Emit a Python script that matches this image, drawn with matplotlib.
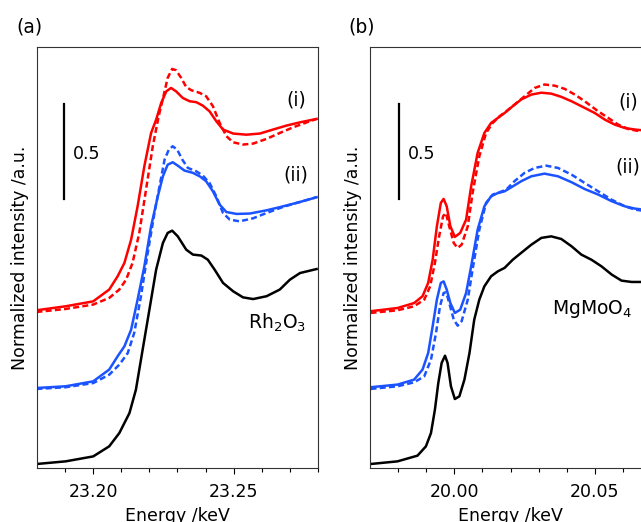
import matplotlib
matplotlib.use("Agg")
import matplotlib.pyplot as plt

# ---- panel (a): Rh K-edge ----
e_a_ref = [23.1798, 23.1902, 23.2000, 23.2057, 23.2093, 23.2129, 23.2152, 23.2176, 23.2200, 23.2224,
           23.2248, 23.2265, 23.2281, 23.2301, 23.2331, 23.2355, 23.2385, 23.2408, 23.2432, 23.2462,
           23.2498, 23.2533, 23.2569, 23.2617, 23.2664, 23.2700, 23.2736, 23.2795]
i_a_ref = [0.021, 0.035, 0.061, 0.114, 0.184, 0.289, 0.412, 0.623, 0.833, 1.044,
           1.184, 1.237, 1.249, 1.219, 1.149, 1.123, 1.118, 1.096, 1.044, 0.974,
           0.930, 0.898, 0.889, 0.904, 0.939, 0.991, 1.026, 1.047]

e_a_i = [23.1798, 23.1902, 23.2000, 23.2057, 23.2087, 23.2111, 23.2135, 23.2158, 23.2182, 23.2206,
         23.2224, 23.2242, 23.2260, 23.2277, 23.2295, 23.2319, 23.2343, 23.2367, 23.2390, 23.2414,
         23.2438, 23.2462, 23.2498, 23.2545, 23.2593, 23.2640, 23.2688, 23.2736, 23.2795]
i_a_i = [0.830, 0.851, 0.877, 0.939, 1.009, 1.079, 1.202, 1.377, 1.588, 1.763,
         1.833, 1.921, 1.982, 2.000, 1.982, 1.947, 1.930, 1.925, 1.907, 1.877,
         1.825, 1.781, 1.760, 1.754, 1.760, 1.781, 1.802, 1.819, 1.837]

e_a_i_d = [23.1798, 23.1902, 23.2000, 23.2057, 23.2093, 23.2117, 23.2140, 23.2164, 23.2188, 23.2212,
           23.2233, 23.2250, 23.2265, 23.2281, 23.2295, 23.2313, 23.2331, 23.2349, 23.2379, 23.2402,
           23.2426, 23.2450, 23.2474, 23.2498, 23.2533, 23.2569, 23.2617, 23.2664, 23.2712, 23.2760, 23.2795]
i_a_i_d = [0.821, 0.837, 0.860, 0.895, 0.939, 0.991, 1.079, 1.237, 1.465, 1.693,
           1.851, 1.956, 2.053, 2.100, 2.093, 2.053, 2.005, 1.988, 1.974, 1.956,
           1.904, 1.816, 1.746, 1.714, 1.702, 1.707, 1.732, 1.763, 1.793, 1.819, 1.837]

e_a_ii = [23.1798, 23.1902, 23.2000, 23.2057, 23.2087, 23.2111, 23.2135, 23.2158, 23.2182, 23.2206,
          23.2230, 23.2248, 23.2265, 23.2283, 23.2301, 23.2325, 23.2355, 23.2379, 23.2402, 23.2426,
          23.2450, 23.2474, 23.2510, 23.2557, 23.2617, 23.2676, 23.2736, 23.2795]
i_a_ii = [0.421, 0.430, 0.456, 0.518, 0.588, 0.640, 0.728, 0.886, 1.061, 1.272,
          1.430, 1.535, 1.596, 1.609, 1.591, 1.565, 1.553, 1.535, 1.509, 1.456,
          1.386, 1.347, 1.337, 1.339, 1.356, 1.377, 1.400, 1.425]

e_a_ii_d = [23.1798, 23.1902, 23.2000, 23.2057, 23.2093, 23.2123, 23.2146, 23.2170, 23.2194, 23.2218,
            23.2236, 23.2254, 23.2269, 23.2283, 23.2299, 23.2317, 23.2337, 23.2367, 23.2390, 23.2414,
            23.2438, 23.2462, 23.2486, 23.2521, 23.2569, 23.2617, 23.2676, 23.2736, 23.2795]
i_a_ii_d = [0.416, 0.425, 0.447, 0.491, 0.544, 0.605, 0.711, 0.904, 1.132, 1.342,
            1.482, 1.623, 1.675, 1.693, 1.675, 1.623, 1.579, 1.561, 1.539, 1.500,
            1.430, 1.342, 1.307, 1.298, 1.314, 1.342, 1.374, 1.400, 1.425]

# ---- panel (b): Mo K-edge ----
e_b_ref = [19.9702, 19.9798, 19.9869, 19.9899, 19.9917, 19.9931, 19.9943, 19.9955, 19.9967, 19.9976,
           19.9988, 20.0002, 20.0018, 20.0036, 20.0054, 20.0071, 20.0089, 20.0107, 20.0131, 20.0155,
           20.0179, 20.0208, 20.0238, 20.0274, 20.0310, 20.0345, 20.0381, 20.0417, 20.0452, 20.0488,
           20.0524, 20.0560, 20.0595, 20.0631, 20.0670]
i_b_ref = [0.021, 0.035, 0.065, 0.114, 0.184, 0.307, 0.447, 0.553, 0.591, 0.553,
           0.430, 0.363, 0.377, 0.465, 0.605, 0.781, 0.886, 0.956, 1.009, 1.035,
           1.053, 1.096, 1.132, 1.175, 1.211, 1.219, 1.205, 1.167, 1.123, 1.096,
           1.061, 1.018, 0.986, 0.979, 0.979]

e_b_i = [19.9702, 19.9798, 19.9857, 19.9887, 19.9907, 19.9923, 19.9938, 19.9952, 19.9962, 19.9973,
         19.9986, 20.0002, 20.0021, 20.0042, 20.0060, 20.0083, 20.0107, 20.0131, 20.0155, 20.0179,
         20.0208, 20.0238, 20.0274, 20.0310, 20.0345, 20.0381, 20.0417, 20.0452, 20.0500, 20.0536,
         20.0571, 20.0607, 20.0643, 20.0670]
i_b_i = [0.825, 0.842, 0.868, 0.904, 0.974, 1.096, 1.272, 1.395, 1.416, 1.377,
         1.272, 1.216, 1.237, 1.307, 1.482, 1.658, 1.763, 1.816, 1.842, 1.868,
         1.904, 1.939, 1.965, 1.975, 1.970, 1.953, 1.930, 1.904, 1.868, 1.833,
         1.807, 1.789, 1.781, 1.777]

e_b_i_d = [19.9702, 19.9798, 19.9857, 19.9893, 19.9914, 19.9931, 19.9946, 19.9960, 19.9970, 19.9982,
           19.9998, 20.0012, 20.0026, 20.0048, 20.0065, 20.0089, 20.0113, 20.0137, 20.0161, 20.0185,
           20.0214, 20.0250, 20.0286, 20.0321, 20.0357, 20.0393, 20.0429, 20.0464, 20.0512, 20.0548,
           20.0583, 20.0619, 20.0649, 20.0670]
i_b_i_d = [0.816, 0.830, 0.851, 0.886, 0.956, 1.079, 1.219, 1.325, 1.342, 1.272,
           1.184, 1.158, 1.175, 1.272, 1.447, 1.640, 1.763, 1.816, 1.851, 1.877,
           1.912, 1.956, 2.000, 2.018, 2.012, 1.995, 1.965, 1.930, 1.877, 1.842,
           1.807, 1.784, 1.775, 1.772]

e_b_ii = [19.9702, 19.9798, 19.9857, 19.9887, 19.9907, 19.9923, 19.9938, 19.9952, 19.9962, 19.9973,
          19.9986, 20.0002, 20.0021, 20.0042, 20.0060, 20.0083, 20.0107, 20.0131, 20.0155, 20.0179,
          20.0208, 20.0238, 20.0274, 20.0321, 20.0369, 20.0417, 20.0464, 20.0512, 20.0560, 20.0607,
          20.0643, 20.0670]
i_b_ii = [0.425, 0.439, 0.465, 0.518, 0.605, 0.746, 0.886, 0.974, 0.982, 0.939,
          0.868, 0.816, 0.833, 0.921, 1.061, 1.254, 1.377, 1.430, 1.447, 1.456,
          1.482, 1.509, 1.535, 1.549, 1.535, 1.504, 1.468, 1.439, 1.404, 1.377,
          1.365, 1.360]

e_b_ii_d = [19.9702, 19.9798, 19.9857, 19.9893, 19.9917, 19.9935, 19.9949, 19.9962, 19.9971, 19.9982,
            19.9998, 20.0012, 20.0026, 20.0048, 20.0065, 20.0089, 20.0113, 20.0137, 20.0161, 20.0185,
            20.0214, 20.0250, 20.0286, 20.0327, 20.0369, 20.0417, 20.0464, 20.0512, 20.0560, 20.0607,
            20.0643, 20.0670]
i_b_ii_d = [0.416, 0.430, 0.451, 0.482, 0.570, 0.711, 0.851, 0.921, 0.925, 0.868,
            0.781, 0.749, 0.772, 0.886, 1.044, 1.254, 1.395, 1.439, 1.451, 1.465,
            1.509, 1.553, 1.579, 1.591, 1.579, 1.544, 1.500, 1.456, 1.412, 1.377,
            1.360, 1.354]

RED = "#ff0000"
BLUE = "#1a53ff"
lw = 1.8
dash = (0, (2.4, 1.3))
fs = 12.5

fig = plt.figure(figsize=(6.41, 5.22), dpi=100)
ax_a = fig.add_axes([37 / 641, 54 / 522, 281 / 641, 421.3 / 522])
ax_b = fig.add_axes([370 / 641, 54 / 522, 281 / 641, 421.3 / 522])


def draw_panel(ax, curves, xlim, ticks, minor, bar_x, lab_x, name, lbl_x, lbl_y, tag):
    kw = dict(lw=lw, solid_joinstyle="round", dash_joinstyle="round")
    ax.plot(curves[0][0], curves[0][1], color="black", **kw)
    ax.plot(curves[1][0], curves[1][1], color=RED, **kw)
    ax.plot(curves[2][0], curves[2][1], color=RED, linestyle=dash, **kw)
    ax.plot(curves[3][0], curves[3][1], color=BLUE, **kw)
    ax.plot(curves[4][0], curves[4][1], color=BLUE, linestyle=dash, **kw)
    ax.set_xlim(*xlim)
    ax.set_ylim(0, 2.217)
    ax.set_xticks(ticks)
    ax.set_xticks(minor, minor=True)
    ax.set_xticklabels(["%.2f" % t for t in ticks], fontsize=fs)
    ax.set_yticks([])
    ax.tick_params(axis="x", which="major", direction="out", length=4, width=0.8, pad=7)
    ax.tick_params(axis="x", which="minor", direction="out", length=3, width=0.8)
    for sp in ax.spines.values():
        sp.set_linewidth(0.8)
        sp.set_color("#333333")
    ax.set_xlabel("Energy /keV", fontsize=fs, labelpad=4)
    ax.set_ylabel("Normalized intensity /a.u.", fontsize=fs, labelpad=6)
    # scale bar
    ax.plot([bar_x, bar_x], [1.416, 1.916], color="black", lw=1.6)
    ax.text(lab_x, 1.654, "0.5", fontsize=fs, ha="left", va="center")
    ax.text(lbl_x, lbl_y[0], "(i)", fontsize=fs + 1, ha="center", va="center")
    ax.text(lbl_x, lbl_y[1], "(ii)", fontsize=fs + 1, ha="center", va="center")
    ax.text(tag[0], tag[1], tag[2], fontsize=fs + 1, ha="left", va="center",
            transform=fig.transFigure)
    ax.text(name[1], name[2], name[0], fontsize=fs + 1, ha="center", va="center")


curves_a = [(e_a_ref, i_a_ref), (e_a_i, i_a_i), (e_a_i_d, i_a_i_d), (e_a_ii, i_a_ii), (e_a_ii_d, i_a_ii_d)]
curves_b = [(e_b_ref, i_b_ref), (e_b_i, i_b_i), (e_b_i_d, i_b_i_d), (e_b_ii, i_b_ii), (e_b_ii_d, i_b_ii_d)]

draw_panel(ax_a, curves_a, (23.18, 23.28), [23.20, 23.25],
           [23.19, 23.21, 23.22, 23.23, 23.24, 23.26, 23.27, 23.28],
           23.1896, 23.1929, ("Rh$_2$O$_3$", 23.2655, 0.763), 23.2721, (1.937, 1.542),
           (16 / 641, 1 - 27 / 522, "(a)"))
draw_panel(ax_b, curves_b, (19.97, 20.07), [20.00, 20.05],
           [19.98, 19.99, 20.01, 20.02, 20.03, 20.04, 20.06, 20.07],
           19.9804, 19.9836, ("MgMoO$_4$", 20.0491, 0.837), 20.0618, (1.926, 1.584),
           (348 / 641, 1 - 27 / 522, "(b)"))

fig.savefig("out.png", dpi=100)
